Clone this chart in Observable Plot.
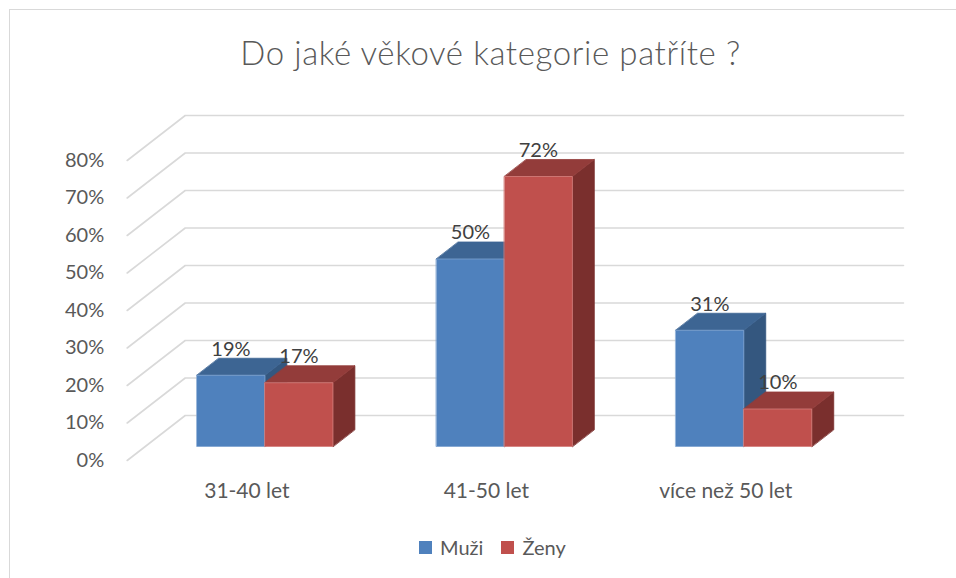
<!DOCTYPE html>
<html>
<head>
<meta charset="utf-8">
<script src="https://cdn.jsdelivr.net/npm/d3@7"></script>
<script src="https://cdn.jsdelivr.net/npm/@observablehq/plot@0.6"></script>
<style>
  html, body { margin: 0; padding: 0; background: #fff; }
  body { width: 956px; height: 578px; position: relative; overflow: hidden; font-family: Lato, "Open Sans", sans-serif; }
  #frame { position: absolute; left: 8.5px; top: 9px; width: 1100px; height: 700px; border: 1.5px solid #d9d9d9; box-sizing: border-box; }
  #title { position: absolute; left: 9px; width: 963px; top: 30px; height: 44px; line-height: 44px; text-align: center; font-size: 33px; letter-spacing: 0.6px; font-weight: 300; color: #595959; }
  #chart { position: absolute; left: 0; top: 100px; }
  #legend { position: absolute; left: 419px; top: 535px; height: 24px; display: flex; align-items: center; font-size: 20px; color: #595959; }
  #legend .sw { width: 13px; height: 13px; display: inline-block; margin-right: 8px; }
  #legend .item { display: flex; align-items: center; margin-right: 18px; }
</style>
</head>
<body>
<div id="frame"></div>
<div id="title">Do jaké věkové kategorie patříte ?</div>
<div id="chart"></div>
<div id="legend"></div>
<script>
// ---- data ----
const categories = ["31-40 let", "41-50 let", "více než 50 let"];
const seriesNames = ["Muži", "Ženy"];
const muzi = [19, 50, 31];
const zeny = [17, 72, 10];
const yTicks = [0, 10, 20, 30, 40, 50, 60, 70, 80];

// ---- styles ----
const palette = {
  "Muži": {front: "#4F81BD", top: "#3D6593", side: "#34577F", edge: "#7FA3D0"},
  "Ženy": {front: "#C0504D", top: "#933C3A", side: "#7A2F2D", edge: "#D47F7C"}
};

// ---- 3D oblique geometry (in scale units) ----
const KX = 0.2423;   // depth shift along x (category bands) for full floor depth
const KY = 12;       // depth shift along y (percent) for full floor depth
const BW = 0.284;    // bar width in band units
const D0 = 0.311, D1 = 0.689; // bar front/back depth

const values = [muzi, zeny];

// gridlines: front-left -> back-left -> back-right
const grid = [];
yTicks.forEach(v => {
  grid.push({t: v, x: 0, y: v});
  grid.push({t: v, x: KX, y: v + KY});
  grid.push({t: v, x: categories.length + KX, y: v + KY});
});

// bar faces
const faces = [];
const labels = [];
let id = 0;
categories.forEach((c, i) => {
  seriesNames.forEach((s, j) => {
    const v = values[j][i];
    const xl = i + 0.5 - BW + j * BW + D0 * KX;
    const xr = xl + BW;
    const yb = D0 * KY, yt = v + D0 * KY;
    const ex = (D1 - D0) * KX, ey = (D1 - D0) * KY;
    const p = palette[s];
    const add = (pts, fill, stroke) => {
      id++;
      pts.forEach(([x, y]) => faces.push({id, x, y, fill, stroke}));
    };
    add([[xr, yb], [xr, yt], [xr + ex, yt + ey], [xr + ex, yb + ey]], p.side, p.side);
    add([[xl, yt], [xr, yt], [xr + ex, yt + ey], [xl + ex, yt + ey]], p.top, p.top);
    add([[xl, yb], [xr, yb], [xr, yt], [xl, yt]], p.front, p.edge);
    labels.push({x: xl + BW / 2, y: yt, text: v + "%"});
  });
});

const chart = Plot.plot({
  width: 956,
  height: 420,
  marginLeft: 126.7,
  marginRight: 53,
  marginTop: 15,
  marginBottom: 60,
  style: {fontFamily: "Lato, 'Open Sans', sans-serif", background: "transparent"},
  x: {type: "linear", domain: [0, categories.length + KX], axis: null},
  y: {type: "linear", domain: [0, 80 + KY], axis: null},
  color: {type: "identity"},
  marks: [
    Plot.line(grid, {x: "x", y: "y", z: "t", stroke: "#d9d9d9", strokeWidth: 1.6}),
    Plot.axisY(yTicks, {anchor: "left", tickSize: 0, tickPadding: 23, tickFormat: d => d + "%", fontSize: 20, color: "#595959", label: null}),
    Plot.line(faces, {x: "x", y: "y", z: "id", fill: "fill", stroke: "stroke", strokeWidth: 0.8, curve: "linear-closed"}),
    Plot.text(labels, {x: "x", y: "y", text: "text", dy: -26, fontSize: 20, fill: "#404040"}),
    Plot.text(categories, {x: (d, i) => i + 0.5, y: () => 0, text: d => d, dy: 31, fontSize: 21, fill: "#595959"})
  ]
});
document.getElementById("chart").appendChild(chart);

// legend
const legend = document.getElementById("legend");
seriesNames.forEach(s => {
  const item = document.createElement("span");
  item.className = "item";
  item.innerHTML = `<span class="sw" style="background:${palette[s].front}"></span>${s}`;
  legend.appendChild(item);
});
</script>
</body>
</html>
